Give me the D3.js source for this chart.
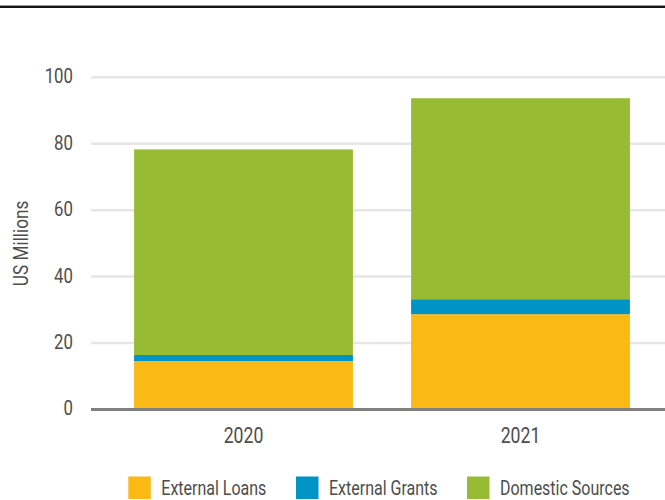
<!DOCTYPE html>
<html>
<head>
<meta charset="utf-8">
<script src="https://cdn.jsdelivr.net/npm/d3@7"></script>
<style>
  html, body { margin: 0; padding: 0; background: #fff; }
  svg { display: block; }
  text { font-family: "Roboto", "Liberation Sans", sans-serif; fill: #4d4d4d; }
</style>
</head>
<body>
<svg id="chart" width="665" height="500"></svg>
<script>
// Funding sources by year, US$ millions
const years = ["2020", "2021"];
const seriesNames = ["External Loans", "External Grants", "Domestic Sources"];
const externalLoans = [14.6, 28.7];
const externalGrants = [1.8, 4.5];
const domesticSources = [61.9, 60.5];
const yTicks = [0, 20, 40, 60, 80, 100];
const seriesColors = ["#fbb916", "#0093c6", "#97bc34"];

const width = 665, height = 500;
const svg = d3.select("#chart");

// narrow the lettering to a condensed look
function condense(sel, factor) {
  sel.each(function () {
    const w = this.getComputedTextLength();
    d3.select(this)
      .attr("textLength", w * factor)
      .attr("lengthAdjust", "spacingAndGlyphs");
  });
}

// top rule
svg.append("rect").attr("x", 0).attr("y", 5).attr("width", width).attr("height", 1).attr("fill", "#9a9a9a");
svg.append("rect").attr("x", 0).attr("y", 6).attr("width", width).attr("height", 2).attr("fill", "#161616");

const rows = years.map((yr, i) => ({
  year: yr,
  "External Loans": externalLoans[i],
  "External Grants": externalGrants[i],
  "Domestic Sources": domesticSources[i]
}));

const stacked = d3.stack().keys(seriesNames)(rows);

const x = d3.scaleBand()
  .domain(years)
  .range([91, 673])
  .paddingInner(0.21)
  .paddingOuter(0.1555);

const y = d3.scaleLinear().domain([0, 100]).range([409.5, 77.3]);

const gridLeft = 91, gridRight = width;

// gridlines
svg.append("g")
  .selectAll("line")
  .data(yTicks.filter(d => d > 0))
  .join("line")
  .attr("x1", gridLeft).attr("x2", gridRight)
  .attr("y1", d => y(d)).attr("y2", d => y(d))
  .attr("stroke", "#e6e6e6").attr("stroke-width", 2.5);

// y tick labels
svg.append("g")
  .selectAll("text")
  .data(yTicks)
  .join("text")
  .attr("x", 73)
  .attr("y", d => y(d))
  .attr("dy", "0.28em")
  .attr("text-anchor", "end")
  .style("font-size", "21px")
  .text(d => d)
  .call(condense, 0.8);

// stacked bars
svg.append("g")
  .selectAll("g")
  .data(stacked)
  .join("g")
  .attr("fill", (d, i) => seriesColors[i])
  .selectAll("rect")
  .data(d => d)
  .join("rect")
  .attr("x", d => x(d.data.year))
  .attr("width", x.bandwidth())
  .attr("y", d => y(d[1]))
  .attr("height", d => y(d[0]) - y(d[1]));

// baseline
svg.append("line")
  .attr("x1", gridLeft).attr("x2", gridRight)
  .attr("y1", y(0)).attr("y2", y(0))
  .attr("stroke", "#808080").attr("stroke-width", 3);

// x labels
svg.append("g")
  .selectAll("text")
  .data(years)
  .join("text")
  .attr("x", d => x(d) + x.bandwidth() / 2)
  .attr("y", 443.3)
  .attr("text-anchor", "middle")
  .style("font-size", "21.5px")
  .text(d => d)
  .call(condense, 0.82);

// y axis title
svg.append("text")
  .attr("transform", `translate(28, ${(y(0) + y(100)) / 2}) rotate(-90)`)
  .attr("text-anchor", "middle")
  .style("font-size", "21px")
  .text("US Millions")
  .call(condense, 0.82);

// legend
const legendX = [128.3, 296, 467];
const legend = svg.append("g")
  .selectAll("g")
  .data(seriesNames)
  .join("g")
  .attr("transform", (d, i) => `translate(${legendX[i]}, 476.5)`);

legend.append("rect")
  .attr("width", 22.5).attr("height", 22.5)
  .attr("fill", (d, i) => seriesColors[i]);

legend.append("text")
  .attr("x", 33)
  .attr("y", 18.2)
  .style("font-size", "19.5px")
  .text(d => d)
  .call(condense, 0.82);
</script>
</body>
</html>
